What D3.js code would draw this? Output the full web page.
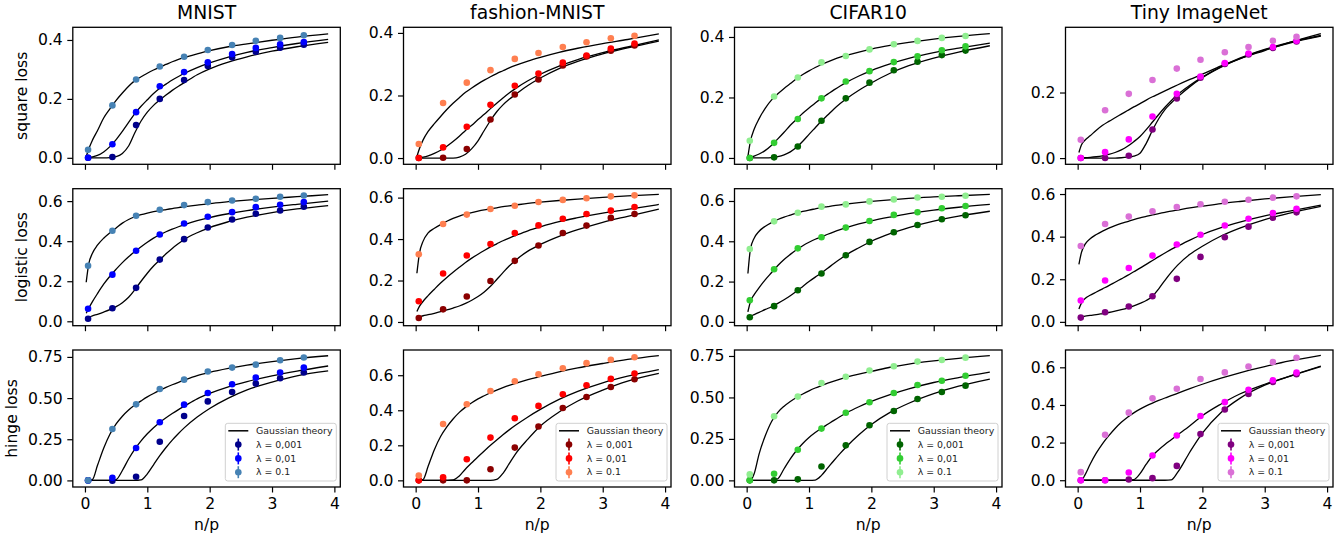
<!DOCTYPE html>
<html>
<head>
<meta charset="utf-8">
<script src="https://cdn.jsdelivr.net/npm/d3@7"></script>
<style>
  body { margin: 0; background: #fff; }
  svg  { display: block; font-family: "DejaVu Sans", sans-serif; }
</style>
</head>
<body>
<svg></svg>
<script>

var datasets     = ["MNIST", "fashion-MNIST", "CIFAR10", "Tiny ImageNet"];
var losses       = ["square loss", "logistic loss", "hinge loss"];
var lambdaLabels = ["λ = 0,001", "λ = 0,01", "λ = 0.1"];
var theoryLabel  = "Gaussian theory";
var xTicks       = [0, 1, 2, 3, 4];

// n/p where the simulations were run
var nOverP  = [0.05, 0.44, 0.82, 1.2, 1.59, 1.97, 2.36, 2.74, 3.13, 3.51];
// n/p grid the theory curves are read on
var theoryX = [0.02, 0.06, 0.12, 0.2, 0.3, 0.4, 0.5, 0.6, 0.7, 0.8, 0.9, 1.0, 1.1, 1.2, 1.3, 1.4, 1.5, 1.6, 1.8, 2.0, 2.3, 2.6, 3.0, 3.4, 3.9];

// one colour per lambda (0.001, 0.01, 0.1) for each dataset
var palettes = [
	["#00008b", "#0000ff", "#4682b4"],
	["#8b0000", "#ff0000", "#ff7f50"],
	["#006400", "#32cd32", "#90ee90"],
	["#800080", "#ff00ff", "#da70d6"]
];

// ---- square loss ----
var mnistSquarePts = [
	[0, 0.003, 0.111, 0.2, 0.264, 0.312, 0.341, 0.36, 0.374, 0.384],
	[0, 0.046, 0.155, 0.243, 0.291, 0.324, 0.352, 0.373, 0.385, 0.393],
	[0.027, 0.178, 0.266, 0.31, 0.343, 0.366, 0.383, 0.397, 0.407, 0.416]
];
var mnistSquareTh = [
	[0, 0, 0, 0, 0, 0.001, 0.004, 0.015, 0.04, 0.085, 0.125, 0.155, 0.178, 0.196, 0.213, 0.229, 0.243, 0.256, 0.282, 0.302, 0.325, 0.343, 0.362, 0.377, 0.392],
	[0, 0.001, 0.003, 0.008, 0.02, 0.038, 0.062, 0.09, 0.12, 0.15, 0.175, 0.197, 0.218, 0.236, 0.25, 0.264, 0.276, 0.287, 0.306, 0.322, 0.342, 0.358, 0.374, 0.388, 0.402],
	[0.004, 0.03, 0.06, 0.092, 0.135, 0.166, 0.195, 0.22, 0.243, 0.262, 0.275, 0.287, 0.298, 0.308, 0.317, 0.326, 0.334, 0.341, 0.353, 0.364, 0.377, 0.387, 0.399, 0.41, 0.421]
];
var fashionSquarePts = [
	[0, 0.001, 0.029, 0.123, 0.203, 0.251, 0.296, 0.325, 0.343, 0.36],
	[0, 0.034, 0.1, 0.17, 0.231, 0.27, 0.305, 0.328, 0.35, 0.366],
	[0.045, 0.176, 0.241, 0.281, 0.317, 0.336, 0.355, 0.37, 0.383, 0.391]
];
var fashionSquareTh = [
	[0, 0, 0, 0, 0, 0, 0, 0, 0.003, 0.012, 0.03, 0.055, 0.088, 0.12, 0.148, 0.17, 0.188, 0.203, 0.232, 0.256, 0.286, 0.309, 0.333, 0.352, 0.374],
	[0, 0.001, 0.003, 0.007, 0.015, 0.025, 0.038, 0.053, 0.07, 0.088, 0.105, 0.123, 0.14, 0.158, 0.175, 0.192, 0.208, 0.222, 0.247, 0.268, 0.294, 0.315, 0.337, 0.355, 0.378],
	[0.005, 0.03, 0.058, 0.085, 0.11, 0.133, 0.155, 0.175, 0.193, 0.21, 0.224, 0.237, 0.249, 0.26, 0.27, 0.279, 0.288, 0.296, 0.31, 0.322, 0.338, 0.351, 0.366, 0.379, 0.397]
];
var cifarSquarePts = [
	[0, 0.002, 0.038, 0.123, 0.197, 0.249, 0.29, 0.318, 0.34, 0.355],
	[0, 0.05, 0.129, 0.197, 0.253, 0.287, 0.317, 0.336, 0.356, 0.369],
	[0.057, 0.203, 0.266, 0.316, 0.337, 0.359, 0.376, 0.387, 0.397, 0.403]
];
var cifarSquareTh = [
	[0, 0, 0, 0, 0, 0.001, 0.004, 0.01, 0.02, 0.035, 0.055, 0.078, 0.1, 0.122, 0.142, 0.162, 0.18, 0.196, 0.224, 0.248, 0.28, 0.305, 0.33, 0.35, 0.371],
	[0, 0.002, 0.006, 0.013, 0.025, 0.042, 0.063, 0.085, 0.108, 0.128, 0.148, 0.165, 0.182, 0.197, 0.211, 0.225, 0.238, 0.25, 0.271, 0.289, 0.311, 0.329, 0.348, 0.363, 0.38],
	[0.005, 0.055, 0.095, 0.13, 0.165, 0.192, 0.212, 0.23, 0.246, 0.262, 0.276, 0.288, 0.299, 0.309, 0.318, 0.326, 0.333, 0.339, 0.35, 0.36, 0.372, 0.382, 0.393, 0.402, 0.411]
];
var tinySquarePts = [
	[0, 0, 0.007, 0.087, 0.182, 0.245, 0.287, 0.316, 0.336, 0.356],
	[0, 0.018, 0.057, 0.127, 0.196, 0.249, 0.29, 0.319, 0.339, 0.358],
	[0.056, 0.146, 0.196, 0.238, 0.273, 0.3, 0.323, 0.339, 0.358, 0.37]
];
var tinySquareTh = [
	[0, 0, 0, 0, 0, 0, 0, 0, 0.001, 0.003, 0.006, 0.015, 0.045, 0.085, 0.12, 0.148, 0.168, 0.186, 0.218, 0.245, 0.277, 0.303, 0.33, 0.351, 0.372],
	[0, 0, 0.001, 0.002, 0.004, 0.007, 0.011, 0.017, 0.025, 0.036, 0.05, 0.066, 0.087, 0.11, 0.133, 0.155, 0.175, 0.193, 0.222, 0.247, 0.279, 0.305, 0.332, 0.353, 0.374],
	[0.017, 0.04, 0.055, 0.068, 0.085, 0.1, 0.112, 0.123, 0.134, 0.145, 0.156, 0.166, 0.177, 0.187, 0.196, 0.205, 0.214, 0.223, 0.24, 0.256, 0.281, 0.303, 0.328, 0.353, 0.38]
];

// ---- logistic loss ----
var mnistLogisticPts = [
	[0.013, 0.065, 0.167, 0.308, 0.41, 0.468, 0.508, 0.537, 0.553, 0.572],
	[0.063, 0.233, 0.352, 0.433, 0.488, 0.522, 0.545, 0.57, 0.582, 0.595],
	[0.277, 0.452, 0.527, 0.557, 0.58, 0.595, 0.603, 0.612, 0.622, 0.628]
];
var mnistLogisticTh = [
	[0.015, 0.02, 0.027, 0.035, 0.046, 0.058, 0.073, 0.093, 0.12, 0.158, 0.2, 0.24, 0.276, 0.306, 0.337, 0.364, 0.388, 0.41, 0.442, 0.468, 0.497, 0.52, 0.543, 0.561, 0.578],
	[0.04, 0.065, 0.098, 0.138, 0.185, 0.225, 0.26, 0.293, 0.322, 0.348, 0.372, 0.395, 0.415, 0.432, 0.447, 0.46, 0.472, 0.483, 0.502, 0.518, 0.537, 0.553, 0.57, 0.584, 0.6],
	[0.195, 0.285, 0.34, 0.38, 0.415, 0.442, 0.466, 0.49, 0.508, 0.522, 0.532, 0.54, 0.547, 0.553, 0.558, 0.563, 0.568, 0.572, 0.58, 0.588, 0.597, 0.605, 0.614, 0.622, 0.632]
];
var fashionLogisticPts = [
	[0.019, 0.061, 0.123, 0.198, 0.295, 0.369, 0.429, 0.465, 0.502, 0.521],
	[0.1, 0.234, 0.321, 0.376, 0.429, 0.466, 0.498, 0.521, 0.537, 0.555],
	[0.327, 0.473, 0.518, 0.545, 0.561, 0.579, 0.589, 0.597, 0.606, 0.611]
];
var fashionLogisticTh = [
	[0.022, 0.025, 0.03, 0.035, 0.042, 0.05, 0.058, 0.067, 0.077, 0.09, 0.105, 0.123, 0.145, 0.172, 0.205, 0.238, 0.27, 0.297, 0.342, 0.374, 0.413, 0.445, 0.481, 0.51, 0.545],
	[0.05, 0.075, 0.1, 0.127, 0.158, 0.188, 0.215, 0.24, 0.264, 0.287, 0.308, 0.327, 0.345, 0.362, 0.377, 0.392, 0.405, 0.417, 0.44, 0.459, 0.484, 0.503, 0.525, 0.543, 0.567],
	[0.235, 0.33, 0.39, 0.43, 0.452, 0.47, 0.486, 0.5, 0.511, 0.52, 0.528, 0.535, 0.541, 0.546, 0.551, 0.556, 0.56, 0.564, 0.572, 0.578, 0.586, 0.593, 0.601, 0.608, 0.616]
];
var cifarLogisticPts = [
	[0.023, 0.078, 0.157, 0.24, 0.331, 0.397, 0.445, 0.481, 0.509, 0.529],
	[0.107, 0.261, 0.365, 0.42, 0.468, 0.501, 0.531, 0.544, 0.564, 0.575],
	[0.362, 0.499, 0.542, 0.572, 0.583, 0.598, 0.608, 0.617, 0.621, 0.626]
];
var cifarLogisticTh = [
	[0.022, 0.028, 0.036, 0.047, 0.062, 0.075, 0.092, 0.11, 0.13, 0.152, 0.176, 0.2, 0.222, 0.243, 0.266, 0.29, 0.312, 0.333, 0.368, 0.4, 0.438, 0.468, 0.5, 0.525, 0.549],
	[0.05, 0.1, 0.135, 0.17, 0.21, 0.245, 0.28, 0.31, 0.335, 0.358, 0.378, 0.395, 0.41, 0.422, 0.435, 0.447, 0.458, 0.468, 0.486, 0.501, 0.52, 0.537, 0.555, 0.569, 0.583],
	[0.24, 0.36, 0.415, 0.45, 0.475, 0.493, 0.508, 0.52, 0.53, 0.54, 0.548, 0.555, 0.561, 0.567, 0.572, 0.577, 0.581, 0.585, 0.592, 0.598, 0.606, 0.613, 0.62, 0.626, 0.633]
];
var tinyLogisticPts = [
	[0.02, 0.045, 0.072, 0.12, 0.202, 0.305, 0.397, 0.447, 0.489, 0.514],
	[0.1, 0.194, 0.253, 0.311, 0.363, 0.409, 0.452, 0.484, 0.511, 0.531],
	[0.356, 0.459, 0.494, 0.519, 0.539, 0.552, 0.564, 0.573, 0.583, 0.589]
];
var tinyLogisticTh = [
	[0.022, 0.024, 0.027, 0.03, 0.034, 0.039, 0.044, 0.05, 0.057, 0.065, 0.075, 0.087, 0.1, 0.12, 0.155, 0.195, 0.232, 0.265, 0.317, 0.355, 0.403, 0.44, 0.48, 0.51, 0.542],
	[0.06, 0.088, 0.11, 0.125, 0.14, 0.155, 0.17, 0.186, 0.202, 0.218, 0.235, 0.252, 0.27, 0.288, 0.306, 0.323, 0.34, 0.355, 0.384, 0.41, 0.442, 0.468, 0.497, 0.52, 0.548],
	[0.27, 0.325, 0.365, 0.39, 0.41, 0.426, 0.44, 0.452, 0.462, 0.471, 0.48, 0.488, 0.495, 0.502, 0.508, 0.514, 0.52, 0.525, 0.535, 0.543, 0.555, 0.565, 0.577, 0.587, 0.597]
];

// ---- hinge loss ----
var mnistHingePts = [
	[0, -0.002, 0.022, 0.235, 0.391, 0.48, 0.537, 0.588, 0.62, 0.655],
	[0, 0.016, 0.197, 0.353, 0.46, 0.531, 0.584, 0.624, 0.655, 0.685],
	[0, 0.312, 0.462, 0.555, 0.612, 0.661, 0.685, 0.703, 0.73, 0.746]
];
var mnistHingeTh = [
	[0, 0, 0, 0, 0, 0, 0, 0, 0, 0, 0.003, 0.04, 0.095, 0.15, 0.2, 0.245, 0.285, 0.322, 0.385, 0.437, 0.5, 0.55, 0.597, 0.635, 0.665],
	[0, 0, 0, 0, 0, 0, 0.005, 0.06, 0.13, 0.19, 0.24, 0.283, 0.32, 0.352, 0.38, 0.406, 0.43, 0.452, 0.495, 0.528, 0.568, 0.6, 0.635, 0.664, 0.695],
	[0, 0, 0.005, 0.09, 0.195, 0.28, 0.343, 0.39, 0.428, 0.458, 0.483, 0.507, 0.528, 0.547, 0.565, 0.581, 0.596, 0.61, 0.636, 0.656, 0.68, 0.7, 0.722, 0.74, 0.757]
];
var fashionHingePts = [
	[0, 0, 0, 0.063, 0.187, 0.307, 0.413, 0.476, 0.533, 0.577],
	[0, 0.017, 0.12, 0.244, 0.354, 0.425, 0.491, 0.543, 0.579, 0.61],
	[0.027, 0.322, 0.434, 0.51, 0.566, 0.606, 0.64, 0.669, 0.688, 0.703]
];
var fashionHingeTh = [
	[0, 0, 0, 0, 0, 0, 0, 0, 0, 0, 0, 0, 0, 0, 0.005, 0.04, 0.095, 0.15, 0.235, 0.31, 0.39, 0.453, 0.515, 0.566, 0.61],
	[0, 0, 0, 0, 0, 0, 0, 0.002, 0.025, 0.065, 0.1, 0.135, 0.168, 0.2, 0.23, 0.26, 0.288, 0.314, 0.362, 0.405, 0.462, 0.508, 0.557, 0.595, 0.632],
	[0, 0, 0.005, 0.08, 0.175, 0.25, 0.305, 0.35, 0.388, 0.418, 0.443, 0.465, 0.483, 0.5, 0.515, 0.529, 0.542, 0.554, 0.575, 0.593, 0.619, 0.642, 0.667, 0.69, 0.712]
];
var cifarHingePts = [
	[0, 0, 0.006, 0.084, 0.211, 0.332, 0.418, 0.491, 0.533, 0.571],
	[0, 0.04, 0.185, 0.312, 0.408, 0.471, 0.527, 0.575, 0.601, 0.631],
	[0.036, 0.386, 0.505, 0.587, 0.625, 0.662, 0.688, 0.716, 0.726, 0.74]
];
var cifarHingeTh = [
	[0, 0, 0, 0, 0, 0, 0, 0, 0, 0, 0, 0, 0.002, 0.03, 0.075, 0.12, 0.163, 0.203, 0.275, 0.337, 0.41, 0.465, 0.523, 0.568, 0.611],
	[0, 0, 0, 0, 0, 0, 0.01, 0.07, 0.13, 0.18, 0.222, 0.258, 0.288, 0.314, 0.338, 0.362, 0.385, 0.407, 0.444, 0.476, 0.517, 0.552, 0.59, 0.62, 0.653],
	[0, 0, 0.04, 0.16, 0.27, 0.355, 0.41, 0.447, 0.476, 0.5, 0.521, 0.54, 0.557, 0.572, 0.586, 0.599, 0.611, 0.622, 0.641, 0.657, 0.682, 0.701, 0.72, 0.736, 0.752]
];
var tinyHingePts = [
	[0, 0, 0.004, 0.011, 0.076, 0.245, 0.376, 0.458, 0.522, 0.563],
	[0, 0, 0.041, 0.131, 0.238, 0.341, 0.415, 0.481, 0.531, 0.572],
	[0.043, 0.241, 0.359, 0.435, 0.486, 0.538, 0.573, 0.604, 0.628, 0.651]
];
var tinyHingeTh = [
	[0, 0, 0, 0, 0, 0, 0, 0, 0, 0, 0, 0, 0, 0, 0, 0, 0.002, 0.04, 0.15, 0.25, 0.36, 0.435, 0.505, 0.552, 0.604],
	[0, 0, 0, 0, 0, 0, 0, 0, 0, 0, 0.003, 0.035, 0.085, 0.13, 0.162, 0.19, 0.215, 0.24, 0.29, 0.343, 0.405, 0.458, 0.51, 0.553, 0.607],
	[0, 0, 0.03, 0.085, 0.145, 0.195, 0.237, 0.275, 0.308, 0.335, 0.358, 0.378, 0.395, 0.41, 0.424, 0.437, 0.449, 0.462, 0.487, 0.51, 0.542, 0.571, 0.604, 0.634, 0.664]
];

// rows = loss, columns = dataset
var panels = [
	[{pts: mnistSquarePts,   th: mnistSquareTh},   {pts: fashionSquarePts,   th: fashionSquareTh},   {pts: cifarSquarePts,   th: cifarSquareTh},   {pts: tinySquarePts,   th: tinySquareTh}],
	[{pts: mnistLogisticPts, th: mnistLogisticTh}, {pts: fashionLogisticPts, th: fashionLogisticTh}, {pts: cifarLogisticPts, th: cifarLogisticTh}, {pts: tinyLogisticPts, th: tinyLogisticTh}],
	[{pts: mnistHingePts,    th: mnistHingeTh},    {pts: fashionHingePts,    th: fashionHingeTh},    {pts: cifarHingePts,    th: cifarHingeTh},    {pts: tinyHingePts,    th: tinyHingeTh}]
];

// axis limits (matplotlib autoscale, 5% margin) and ticks
var xDomain  = [-0.195, 4.095];
var yDomains = [
	[[-0.022, 0.443], [-0.020, 0.418], [-0.021, 0.432], [-0.019, 0.399]],
	[[-0.022, 0.662], [-0.018, 0.643], [-0.019, 0.661], [-0.018, 0.625]],
	[[-0.040, 0.792], [-0.038, 0.744], [-0.040, 0.786], [-0.036, 0.692]]
];
var yTicks = [
	[[0, 0.2, 0.4], [0, 0.2, 0.4], [0, 0.2, 0.4], [0, 0.2]],
	[[0, 0.2, 0.4, 0.6], [0, 0.2, 0.4, 0.6], [0, 0.2, 0.4, 0.6], [0, 0.2, 0.4, 0.6]],
	[[0, 0.25, 0.5, 0.75], [0, 0.2, 0.4, 0.6], [0, 0.25, 0.5, 0.75], [0, 0.2, 0.4, 0.6]]
];
var yFormats = [
	[".1f", ".1f", ".1f", ".1f"],
	[".1f", ".1f", ".1f", ".1f"],
	[".2f", ".1f", ".2f", ".1f"]
];

var width   = 1343,
    height  = 541,
    colLeft = [72.8, 403.5, 734.5, 1065.5],
    rowTop  = [27.3, 188.7, 350],
    panelW  = 267.5,
    panelH  = 137;

var tickFont  = 15.6,
    titleFont = 18.8,
    legendFont = 9.4;

var svg = d3.select("svg")
		.attr("width",  width)
		.attr("height", height);

var drawPanel = function (row, col) {
	var data   = panels[row][col];
	var colors = palettes[col];

	var g = svg.append("g")
		.attr("transform", "translate(" + colLeft[col] + "," + rowTop[row] + ")");

	var x = d3.scaleLinear().domain(xDomain).range([0, panelW]);
	var y = d3.scaleLinear().domain(yDomains[row][col]).range([panelH, 0]);

	// axes first, the frame goes on top at the end
	var xAxis = d3.axisBottom(x)
		.tickValues(xTicks)
		.tickSize(5.5)
		.tickSizeOuter(0)
		.tickPadding(5.5)
		.tickFormat(row === 2 ? d3.format("d") : function () { return ""; });

	var yAxis = d3.axisLeft(y)
		.tickValues(yTicks[row][col])
		.tickSize(5.5)
		.tickSizeOuter(0)
		.tickPadding(4.5)
		.tickFormat(d3.format(yFormats[row][col]));

	g.append("g")
		.attr("transform", "translate(0," + panelH + ")")
		.call(xAxis)
		.attr("font-family", null)
		.attr("font-size", tickFont)
		.call(function (a) { a.select(".domain").remove(); });

	var ya = g.append("g")
		.call(yAxis)
		.attr("font-family", null)
		.attr("font-size", tickFont)
		.call(function (a) { a.select(".domain").remove(); });

	g.selectAll(".tick line").attr("stroke-width", 1.2);
	g.selectAll(".tick text").attr("fill", "#000");

	// theory curves
	var line = d3.line()
		.x(function (d, i) { return x(theoryX[i]); })
		.y(function (d) { return y(d); })
		.curve(d3.curveMonotoneX);

	g.append("g")
		.attr("class", "theory")
		.selectAll("path")
		.data(data.th)
		.enter().append("path")
		.attr("d", line)
		.attr("fill", "none")
		.attr("stroke", "#000")
		.attr("stroke-width", 1.3);

	// simulation points, smallest lambda first
	data.pts.forEach(function (series, k) {
		g.append("g")
			.attr("class", "points")
			.selectAll("circle")
			.data(series)
			.enter().append("circle")
			.attr("cx", function (d, i) { return x(nOverP[i]); })
			.attr("cy", function (d) { return y(d); })
			.attr("r", 3.3)
			.attr("fill", colors[k]);
	});

	g.append("rect")
		.attr("width", panelW)
		.attr("height", panelH)
		.attr("fill", "none")
		.attr("stroke", "#000")
		.attr("stroke-width", 1.3);

	if (row === 0) {
		g.append("text")
			.attr("x", panelW / 2)
			.attr("y", -8.5)
			.attr("text-anchor", "middle")
			.attr("font-size", titleFont)
			.text(datasets[col]);
	}

	if (col === 0) {
		// put the label just left of the widest tick label
		var left = ya.node().getBBox().x;
		g.append("text")
			.attr("transform", "translate(" + (left - 11) + "," + (panelH / 2) + ") rotate(-90)")
			.attr("text-anchor", "middle")
			.attr("font-size", tickFont)
			.text(losses[row]);
	}

	if (row === 2) {
		g.append("text")
			.attr("x", panelW / 2)
			.attr("y", panelH + 43.3)
			.attr("text-anchor", "middle")
			.attr("font-size", tickFont)
			.text("n/p");
		drawLegend(g, colors);
	}
};

var drawLegend = function (g, colors) {
	var boxW = 111, boxH = 57.7;
	var lg = g.append("g")
		.attr("transform", "translate(" + (panelW - 4 - boxW) + "," + (panelH - 6 - boxH) + ")");

	lg.append("rect")
		.attr("width", boxW)
		.attr("height", boxH)
		.attr("rx", 2.5)
		.attr("fill", "#fff")
		.attr("fill-opacity", 0.8)
		.attr("stroke", "#d0d0d0")
		.attr("stroke-width", 1);

	var rowY = function (i) { return 7.5 + i * 13.8; };

	lg.append("line")
		.attr("x1", 3).attr("x2", 23)
		.attr("y1", rowY(0)).attr("y2", rowY(0))
		.attr("stroke", "#000")
		.attr("stroke-width", 1.5);

	lambdaLabels.forEach(function (label, k) {
		var cy = rowY(k + 1);
		lg.append("line")
			.attr("x1", 13).attr("x2", 13)
			.attr("y1", cy - 6).attr("y2", cy + 6)
			.attr("stroke", colors[k])
			.attr("stroke-width", 1.6);
		lg.append("circle")
			.attr("cx", 13)
			.attr("cy", cy)
			.attr("r", 3.3)
			.attr("fill", colors[k]);
	});

	lg.selectAll("text")
		.data([theoryLabel].concat(lambdaLabels))
		.enter().append("text")
		.attr("x", 30.7)
		.attr("y", function (d, i) { return rowY(i); })
		.attr("dy", "0.35em")
		.attr("font-size", legendFont)
		.attr("fill", "#222")
		.text(function (d) { return d; });
};

for (var r = 0; r < losses.length; r++) {
	for (var c = 0; c < datasets.length; c++) {
		drawPanel(r, c);
	}
}

</script>
</body>
</html>
